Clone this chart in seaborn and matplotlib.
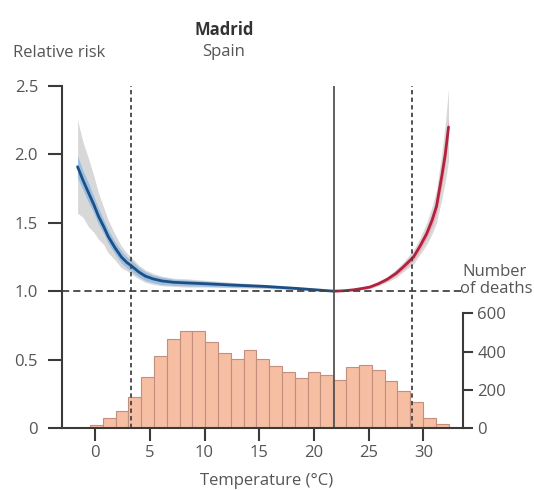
import matplotlib
matplotlib.use('Agg')
import matplotlib.pyplot as plt
import numpy as np
import pandas as pd
import seaborn as sns

# Exposure-response curve, cold side (below MMT) and hot side (above MMT)
cold_temp = [-1.6, -1.1, -0.6, -0.1, 0.3, 0.8, 1.2, 1.8, 2.4, 2.9, 3.4, 4.0, 4.6, 5.3, 6.1, 7.2, 8.5, 10.0, 12.5, 15.5, 18.5, 20.5, 21.85]
cold_rr = [1.91, 1.81, 1.72, 1.63, 1.55, 1.47, 1.40, 1.32, 1.25, 1.21, 1.18, 1.14, 1.11, 1.09, 1.075, 1.065, 1.06, 1.055, 1.045, 1.035, 1.02, 1.008, 1.0]
cold_ci_lo = [1.57, 1.54, 1.47, 1.43, 1.38, 1.34, 1.28, 1.23, 1.17, 1.15, 1.12, 1.09, 1.065, 1.05, 1.04, 1.035, 1.03, 1.03, 1.025, 1.02, 1.01, 1.004, 1.0]
cold_ci_hi = [2.25, 2.09, 1.97, 1.84, 1.72, 1.61, 1.52, 1.42, 1.33, 1.28, 1.24, 1.19, 1.155, 1.13, 1.11, 1.095, 1.09, 1.08, 1.065, 1.05, 1.03, 1.012, 1.0]
cold_band_lo = [1.83, 1.74, 1.65, 1.57, 1.49, 1.42, 1.35, 1.275, 1.205, 1.17, 1.14, 1.105, 1.078, 1.062, 1.048, 1.043, 1.039, 1.036, 1.03, 1.025, 1.013, 1.005, 1.0]
cold_band_hi = [1.99, 1.88, 1.79, 1.69, 1.61, 1.52, 1.45, 1.365, 1.295, 1.25, 1.22, 1.175, 1.142, 1.118, 1.102, 1.087, 1.081, 1.074, 1.06, 1.045, 1.027, 1.011, 1.0]

hot_temp = [21.85, 22.7, 23.6, 24.4, 25.1, 25.9, 26.7, 27.5, 28.2, 29.1, 29.7, 30.3, 30.8, 31.2, 31.7, 32.0, 32.3]
hot_rr = [1.0, 1.003, 1.01, 1.02, 1.03, 1.055, 1.087, 1.13, 1.18, 1.25, 1.33, 1.42, 1.52, 1.62, 1.85, 2.0, 2.2]
hot_ci_lo = [1.0, 1.0, 1.005, 1.01, 1.02, 1.04, 1.067, 1.10, 1.145, 1.20, 1.27, 1.34, 1.42, 1.50, 1.68, 1.80, 1.95]
hot_ci_hi = [1.0, 1.006, 1.015, 1.03, 1.04, 1.07, 1.107, 1.16, 1.215, 1.30, 1.39, 1.50, 1.62, 1.74, 2.02, 2.22, 2.48]
hot_band_lo = [1.0, 1.001, 1.006, 1.014, 1.023, 1.046, 1.076, 1.115, 1.16, 1.225, 1.30, 1.385, 1.475, 1.57, 1.78, 1.93, 2.14]
hot_band_hi = [1.0, 1.005, 1.014, 1.026, 1.037, 1.064, 1.098, 1.145, 1.20, 1.275, 1.36, 1.455, 1.565, 1.67, 1.92, 2.07, 2.27]

# Reference temperatures
mmt = 21.85
p_low = 3.3
p_high = 29.0

# Daily temperature distribution (number of deaths per bin)
hist_start = -0.46
hist_width = 1.17
deaths = [16, 52, 91, 164, 265, 377, 464, 508, 508, 448, 393, 363, 407, 363,
          322, 292, 261, 292, 277, 251, 318, 332, 306, 244, 194, 137, 52, 20]

x_ticks = [0, 5, 10, 15, 20, 25, 30]
rr_ticks = [0, 0.5, 1.0, 1.5, 2.0, 2.5]
rr_labels = ['0', '0.5', '1.0', '1.5', '2.0', '2.5']
death_ticks = [0, 200, 400, 600]

sns.set_style('white')
plt.rcParams['font.family'] = ['Open Sans', 'DejaVu Sans']

grey_txt = '#555555'
axis_col = '#3a3a3a'
fs = 12

fig = plt.figure(figsize=(5.34, 4.9), dpi=100)
ax = fig.add_axes([61.7 / 534, 62 / 490, (463.3 - 61.7) / 534, 342 / 490])
ax2 = ax.twinx()

# histogram on the secondary axis
edges = hist_start + hist_width * np.arange(len(deaths) + 1)
hist_df = pd.DataFrame({'temp': (edges[:-1] + edges[1:]) / 2, 'deaths': deaths})
sns.histplot(data=hist_df, x='temp', weights='deaths', bins=edges.tolist(), ax=ax2,
             color='#f6bea3', edgecolor='#c48e7c', linewidth=0.8, alpha=1)
ax2.set_ylim(0, 600 * 342 / 114.7)
ax2.set_ylabel('')
ax2.set_yticks(death_ticks)

# curves and confidence bands
ax.fill_between(cold_temp, cold_ci_lo, cold_ci_hi, color='#cccccc', alpha=0.75, lw=0)
ax.fill_between(cold_temp, cold_band_lo, cold_band_hi, color='#8fbbe3', alpha=0.85, lw=0)
ax.fill_between(hot_temp, hot_ci_lo, hot_ci_hi, color='#cccccc', alpha=0.75, lw=0)
ax.fill_between(hot_temp, hot_band_lo, hot_band_hi, color='#f0a0b0', alpha=0.85, lw=0)
sns.lineplot(x=cold_temp, y=cold_rr, ax=ax, color='#1d4f86', lw=2, sort=False)
sns.lineplot(x=hot_temp, y=hot_rr, ax=ax, color='#b2223d', lw=2, sort=False)

ax.axhline(1.0, color='#444444', lw=1.3, dashes=(4, 2.2))
ax.axvline(mmt, color='#555555', lw=1.3)
ax.axvline(p_low, color='#444444', lw=1.3, dashes=(2.4, 1.8))
ax.axvline(p_high, color='#444444', lw=1.3, dashes=(2.4, 1.8))

ax.set_zorder(ax2.get_zorder() + 1)
ax.patch.set_visible(False)

ax.set_xlim(-3.05, 33.65)
ax.set_ylim(0, 2.5)
ax.set_xticks(x_ticks)
ax.set_yticks(rr_ticks)
ax.set_yticklabels(rr_labels)
ax.set_xlabel('Temperature (°C)', color=grey_txt, fontsize=fs, va='center')
ax.xaxis.set_label_coords((266.5 - 61.7) / 401.6, -(481 - 428) / 342)

for a in (ax, ax2):
    for s in a.spines.values():
        s.set_color(axis_col)
        s.set_linewidth(1.5)
    a.spines['top'].set_visible(False)
ax.spines['right'].set_visible(False)
ax2.spines['left'].set_visible(False)
ax2.spines['bottom'].set_visible(False)
ax2.spines['right'].set_bounds(0, 600)

ax.tick_params(axis='y', direction='out', length=10, width=1.5, color=axis_col,
               labelsize=fs, labelcolor=grey_txt, pad=7, left=True)
ax.tick_params(axis='x', direction='out', length=9, width=1.5, color=axis_col,
               labelsize=fs, labelcolor=grey_txt, pad=3, bottom=True)
ax2.tick_params(axis='y', direction='out', length=7, width=1.5, color=axis_col,
                labelsize=fs, labelcolor=grey_txt, pad=3, right=True)

fig.text(13 / 534, 1 - 53 / 490, 'Relative risk', fontsize=fs, color=grey_txt,
         ha='left', va='center')
fig.text(224 / 534, 1 - 30 / 490, 'Madrid', fontsize=fs, fontweight='bold',
         color='#333333', ha='center', va='center')
fig.text(224 / 534, 1 - 52 / 490, 'Spain', fontsize=fs, color=grey_txt,
         ha='center', va='center')
fig.text(462 / 534, 1 - 272 / 490, 'Number', fontsize=fs, color=grey_txt,
         ha='left', va='center')
fig.text(460 / 534, 1 - 289 / 490, 'of deaths', fontsize=fs, color=grey_txt,
         ha='left', va='center')

fig.savefig('out.png', dpi=100)
